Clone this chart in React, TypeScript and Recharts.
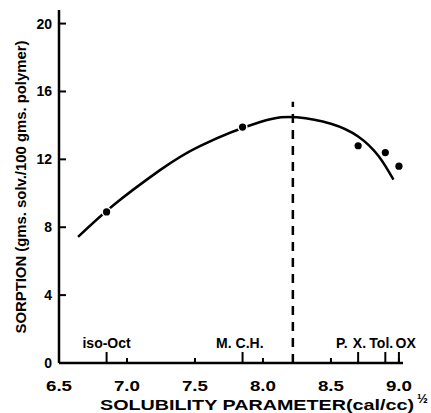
import React from "react";
import { ComposedChart, Line, Scatter, XAxis, YAxis, ReferenceLine, ReferenceDot } from "recharts";

const curveX = [6.64, 6.9, 7.24, 7.54, 7.98, 8.25, 8.5, 8.7, 8.85, 8.96];
const curveY = [7.43, 9.3, 11.35, 12.8, 14.2, 14.48, 14.1, 13.35, 12.2, 10.8];
const pointX = [6.85, 7.85, 8.7, 8.9, 9.0];
const pointY = [8.9, 13.9, 12.8, 12.4, 11.6];
const solventNames = ["iso-Oct", "M. C.H.", "P.", "X.", "Tol.", "OX"];
const solventLabelX = [6.85, 7.83, 8.58, 8.71, 8.87, 9.05];
const xTicks = [6.5, 7.0, 7.5, 8.0, 8.5, 9.0];
const yTicks = [0, 4, 8, 12, 16, 20];
const criticalX = 8.22;
const criticalTop = 15.4;

const curveData = curveX.map((x, i) => ({ x, y: curveY[i] }));
const pointData = pointX.map((x, i) => ({ x, y: pointY[i] }));

const FONT = "'Liberation Sans', Arial, sans-serif";

const XTick = (props: any) => {
  const { x, y, payload } = props;
  const label = payload.value.toFixed(1);
  return (
    <g>
      <line x1={x} x2={x} y1={y} y2={y - 5} stroke="#000" strokeWidth={2} />
      <text x={x} y={y + 28} textAnchor="middle" fontFamily={FONT} fontWeight="bold" fontSize={14} fill="#000" textLength={26} lengthAdjust="spacingAndGlyphs">
        {label}
      </text>
    </g>
  );
};

const YTick = (props: any) => {
  const { x, y, payload } = props;
  return (
    <g>
      <line x1={x} x2={x + 7} y1={y} y2={y} stroke="#000" strokeWidth={2} />
      <text x={x - 7} y={y + 5} textAnchor="end" fontFamily={FONT} fontWeight="bold" fontSize={14} fill="#000">
        {payload.value}
      </text>
    </g>
  );
};

const Dot = (props: any) => {
  const { cx, cy } = props;
  return <circle cx={cx} cy={cy} r={3.6} fill="#000" stroke="#fff" strokeWidth={3} paintOrder="stroke" />;
};

export default function App() {
  return (
    <div style={{ position: "absolute", left: 0, top: 0, width: 431, height: 413, background: "#fff" }}>
      <ComposedChart width={431} height={413} margin={{ top: 10, right: 28, bottom: 0, left: 0 }}>
        <XAxis
          dataKey="x"
          type="number"
          domain={[6.5, 9.03]}
          ticks={xTicks}
          tickSize={0}
          tickMargin={0}
          height={50}
          axisLine={{ stroke: "#000", strokeWidth: 2.5 }}
          tickLine={false}
          tick={<XTick />}
        />
        <YAxis
          dataKey="y"
          type="number"
          domain={[0, 20.8]}
          ticks={yTicks}
          tickSize={0}
          tickMargin={0}
          width={59}
          axisLine={{ stroke: "#000", strokeWidth: 2.5 }}
          tickLine={false}
          tick={<YTick />}
        />
        <ReferenceLine
          segment={[{ x: criticalX, y: 0 }, { x: criticalX, y: criticalTop }]}
          stroke="#000"
          strokeWidth={2.5}
          strokeDasharray="9 7"
          ifOverflow="visible"
        />
        {pointX.map((x) => (
          <ReferenceLine key={"t" + x} segment={[{ x, y: 0 }, { x, y: 0.65 }]} stroke="#000" strokeWidth={2} ifOverflow="visible" />
        ))}
        <Line data={curveData} dataKey="y" type="natural" stroke="#000" strokeWidth={2.5} dot={false} activeDot={false} isAnimationActive={false} />
        <Scatter data={pointData} dataKey="y" shape={<Dot />} isAnimationActive={false} />
        {solventNames.map((name, i) => (
          <ReferenceDot
            key={name}
            x={solventLabelX[i]}
            y={1.2}
            r={0}
            ifOverflow="visible"
            shape={(p: any) => (
              <text x={p.cx} y={p.cy + 5} textAnchor="middle" fontFamily={FONT} fontWeight="bold" fontSize={14} fill="#000">
                {name}
              </text>
            )}
          />
        ))}
        <text x={100} y={410} fontFamily={FONT} fontWeight="bold" fontSize={14} fill="#000" textLength={314} lengthAdjust="spacingAndGlyphs">
          SOLUBILITY  PARAMETER(cal/cc)
        </text>
        <text x={417} y={403} fontFamily={FONT} fontWeight="bold" fontSize={13} fill="#000">
          ½
        </text>
        <text
          x={26}
          y={187}
          transform="rotate(-90 26 187)"
          textAnchor="middle"
          fontFamily={FONT}
          fontWeight="bold"
          fontSize={14}
          fill="#000"
          textLength={293}
          lengthAdjust="spacingAndGlyphs"
        >
          SORPTION (gms. solv./100 gms. polymer)
        </text>
      </ComposedChart>
    </div>
  );
}
